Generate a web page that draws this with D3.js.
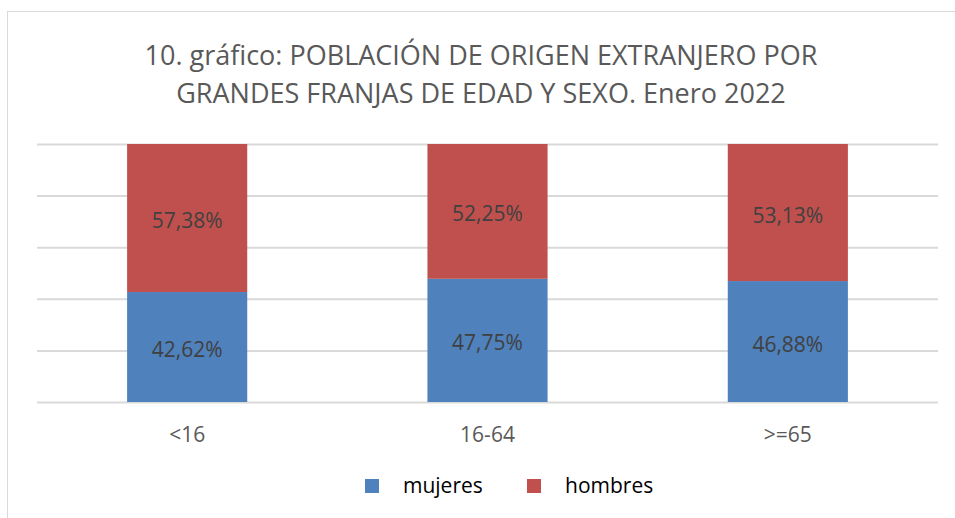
<!DOCTYPE html>
<html>
<head>
<meta charset="utf-8">
<script src="https://cdn.jsdelivr.net/npm/d3@7"></script>
<style>
  body { margin: 0; background: #fff; }
  svg { display: block; font-family: "Open Sans", "Noto Sans", sans-serif; }
</style>
</head>
<body>
<div id="chart"></div>
<script>
// data
const categories = ["<16", "16-64", ">=65"];
const mujeres = [42.62, 47.75, 46.88];
const hombres = [57.38, 52.25, 53.13];
const seriesNames = ["mujeres", "hombres"];
const seriesColors = ["#4F81BD", "#C0504D"];
const titleLines = ["10. gráfico: POBLACIÓN DE ORIGEN EXTRANJERO POR", "GRANDES FRANJAS DE EDAD Y SEXO. Enero 2022"];

const W = 955, H = 518;
const margin = {top: 144, right: 17, bottom: 116, left: 37};

const svg = d3.select("#chart").append("svg")
  .attr("width", W)
  .attr("height", H);

// chart border
svg.append("rect")
  .attr("x", 7.5).attr("y", 11.5)
  .attr("width", W + 10).attr("height", H + 10)
  .attr("fill", "none")
  .attr("stroke", "#d9d9d9");

// title
svg.append("g").selectAll("text")
  .data(titleLines)
  .enter().append("text")
  .attr("x", 481)
  .attr("y", (d, i) => 65 + i * 38)
  .attr("text-anchor", "middle")
  .attr("font-size", 27)
  .attr("fill", "#595959")
  .text(d => d);

const x = d3.scaleBand()
  .domain(categories)
  .range([margin.left, W - margin.right])
  .paddingInner(0.6)
  .paddingOuter(0.3);

const y = d3.scaleLinear()
  .domain([0, 100])
  .range([H - margin.bottom, margin.top]);

// gridlines
svg.append("g")
  .attr("transform", "translate(" + margin.left + ",0)")
  .call(d3.axisLeft(y).tickValues([0, 20, 40, 60, 80, 100]).tickSize(-(W - margin.right - margin.left)).tickFormat(""))
  .call(g => g.select(".domain").remove())
  .call(g => g.selectAll("line").attr("stroke", "#d9d9d9").attr("stroke-width", 2));

// stacked data
const rows = categories.map((c, i) => ({cat: c, mujeres: mujeres[i], hombres: hombres[i]}));
const stack = d3.stack().keys(seriesNames)(rows);

const fmt = v => v.toFixed(2).replace(".", ",") + "%";

const layers = svg.append("g").selectAll("g")
  .data(stack)
  .enter().append("g")
  .attr("fill", (d, i) => seriesColors[i]);

layers.selectAll("rect")
  .data(d => d)
  .enter().append("rect")
  .attr("x", d => x(d.data.cat))
  .attr("y", d => y(d[1]))
  .attr("width", x.bandwidth())
  .attr("height", d => y(d[0]) - y(d[1]));

layers.selectAll("text")
  .data(d => d)
  .enter().append("text")
  .attr("x", d => x(d.data.cat) + x.bandwidth() / 2)
  .attr("y", d => (y(d[0]) + y(d[1])) / 2 + 10)
  .attr("text-anchor", "middle")
  .attr("font-size", 21)
  .attr("fill", "#404040")
  .text(d => fmt(d[1] - d[0]));

// x axis labels
svg.append("g")
  .attr("transform", "translate(0," + (H - margin.bottom) + ")")
  .call(d3.axisBottom(x).tickSize(0).tickPadding(25))
  .call(g => g.select(".domain").remove())
  .call(g => g.selectAll("text").attr("font-size", 21).attr("fill", "#595959").attr("font-family", "Open Sans, sans-serif"));

// legend
const legendX = [365, 527];
const legend = svg.append("g").selectAll("g")
  .data(seriesNames)
  .enter().append("g")
  .attr("transform", (d, i) => "translate(" + legendX[i] + ",479)");

legend.append("rect")
  .attr("width", 14).attr("height", 14)
  .attr("fill", (d, i) => seriesColors[i]);

legend.append("text")
  .attr("x", 38).attr("y", 14)
  .attr("font-size", 21)
  .attr("fill", "#000")
  .text(d => d);
</script>
</body>
</html>
